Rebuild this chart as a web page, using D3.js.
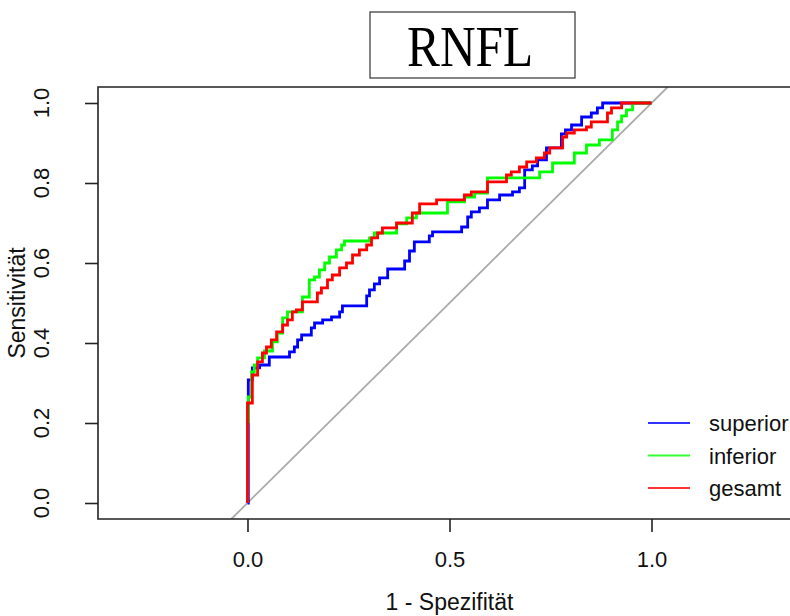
<!DOCTYPE html>
<html>
<head>
<meta charset="utf-8">
<script src="https://cdn.jsdelivr.net/npm/d3@7"></script>
<style>
	body { margin: 0; background: #fff; }
	svg { display: block; font-family: "Liberation Sans", Arial, Helvetica, sans-serif; }
</style>
</head>
<body>
<svg width="790" height="616"></svg>
<script>
const w = 790;
const h = 616;

const title = "RNFL";
const x_label = "1 - Spezifität";
const y_label = "Sensitivität";
const x_ticks = [0, 0.5, 1];
const y_ticks = [0, 0.2, 0.4, 0.6, 0.8, 1];
const series_names = ["superior", "inferior", "gesamt"];
const series_colors = ["#0000ff", "#00ff00", "#ff0000"];

// [1 - specificity, sensitivity], step corners
const superior = [
	[0, 0], [0.002, 0.308], [0.012, 0.338], [0.030, 0.345], [0.054, 0.365], [0.104, 0.378],
	[0.116, 0.39], [0.124, 0.408], [0.134, 0.42], [0.158, 0.438], [0.166, 0.45], [0.186, 0.458],
	[0.208, 0.465], [0.228, 0.478], [0.235, 0.493], [0.295, 0.518], [0.302, 0.533], [0.314, 0.548],
	[0.327, 0.563], [0.347, 0.585], [0.389, 0.605], [0.401, 0.63], [0.413, 0.653], [0.450, 0.668],
	[0.458, 0.678], [0.530, 0.69], [0.545, 0.715], [0.554, 0.728], [0.574, 0.738], [0.594, 0.758],
	[0.624, 0.77], [0.656, 0.778], [0.673, 0.788], [0.686, 0.833], [0.705, 0.843], [0.718, 0.858],
	[0.740, 0.888], [0.777, 0.923], [0.787, 0.933], [0.802, 0.945], [0.827, 0.965], [0.851, 0.975],
	[0.866, 0.988], [0.879, 1.0], [1.0, 1.0]
];
const inferior = [
	[0, 0], [0, 0.203], [0.002, 0.265], [0.010, 0.328], [0.017, 0.345], [0.025, 0.363],
	[0.042, 0.38], [0.062, 0.403], [0.074, 0.425], [0.087, 0.463], [0.099, 0.478], [0.136, 0.515],
	[0.153, 0.558], [0.166, 0.565], [0.178, 0.583], [0.191, 0.60], [0.203, 0.615], [0.220, 0.633],
	[0.233, 0.645], [0.240, 0.655], [0.302, 0.663], [0.314, 0.675], [0.369, 0.698], [0.394, 0.713],
	[0.418, 0.725], [0.495, 0.753], [0.537, 0.765], [0.562, 0.775], [0.594, 0.813], [0.723, 0.828],
	[0.755, 0.85], [0.809, 0.875], [0.839, 0.895], [0.871, 0.908], [0.903, 0.933], [0.916, 0.953],
	[0.926, 0.968], [0.938, 0.983], [0.953, 1.0], [1.0, 1.0]
];
const gesamt = [
	[0, 0], [0, 0.25], [0.012, 0.32], [0.025, 0.353], [0.037, 0.375], [0.047, 0.39],
	[0.059, 0.408], [0.072, 0.428], [0.087, 0.445], [0.099, 0.458], [0.111, 0.478], [0.121, 0.483],
	[0.136, 0.503], [0.173, 0.525], [0.183, 0.538], [0.198, 0.558], [0.210, 0.57], [0.228, 0.588],
	[0.245, 0.60], [0.260, 0.62], [0.277, 0.633], [0.295, 0.645], [0.307, 0.663], [0.322, 0.675],
	[0.334, 0.688], [0.369, 0.70], [0.408, 0.725], [0.426, 0.748], [0.468, 0.758], [0.537, 0.77],
	[0.554, 0.778], [0.594, 0.803], [0.641, 0.82], [0.653, 0.828], [0.673, 0.84], [0.691, 0.853],
	[0.715, 0.863], [0.735, 0.875], [0.748, 0.888], [0.780, 0.915], [0.790, 0.925], [0.809, 0.933],
	[0.839, 0.94], [0.851, 0.953], [0.891, 0.975], [0.901, 0.988], [0.926, 1.0], [1.0, 1.0]
];
const curves = [superior, inferior, gesamt];

// plot region (R style, box cut off at the right edge)
const plot_left = 98;
const plot_right = 801;
const plot_top = 87;
const plot_bottom = 519;
const tick_len = 13;

const svg = d3.select("svg");

const x_scale = d3.scaleLinear()
	.domain([-0.37, 1.37])
	.range([plot_left, plot_right]);

const y_scale = d3.scaleLinear()
	.domain([-0.04, 1.04])
	.range([plot_bottom, plot_top]);

svg.append("clipPath")
	.attr("id", "plot_clip")
	.append("rect")
	.attr("x", plot_left)
	.attr("y", plot_top)
	.attr("width", plot_right - plot_left)
	.attr("height", plot_bottom - plot_top);

const plot_area = svg.append("g").attr("clip-path", "url(#plot_clip)");

// chance diagonal
plot_area.append("line")
	.attr("x1", x_scale(-0.04))
	.attr("y1", y_scale(-0.04))
	.attr("x2", x_scale(1.04))
	.attr("y2", y_scale(1.04))
	.attr("stroke", "#ababab")
	.attr("stroke-width", 1.8);

const line = d3.line()
	.x((d) => x_scale(d[0]))
	.y((d) => y_scale(d[1]))
	.curve(d3.curveStepAfter);

curves.forEach((element, i) => {
	plot_area.append("path")
		.datum(element)
		.attr("d", line)
		.attr("fill", "none")
		.attr("stroke", series_colors[i])
		.attr("stroke-width", 2.8)
		.attr("stroke-linejoin", "miter");
});

// box: left, top, bottom
svg.append("path")
	.attr("d", "M" + plot_right + "," + plot_top + "H" + plot_left + "V" + plot_bottom + "H" + plot_right)
	.attr("fill", "none")
	.attr("stroke", "#222")
	.attr("stroke-width", 1.6);

const x_axis = d3.axisBottom(x_scale)
	.tickValues(x_ticks)
	.tickSize(tick_len)
	.tickPadding(19)
	.tickFormat(d3.format(".1f"));

const x_axis_g = svg.append("g")
	.attr("transform", "translate(0," + plot_bottom + ")")
	.call(x_axis);
x_axis_g.select(".domain").remove();
x_axis_g.selectAll("line").attr("stroke", "#222").attr("stroke-width", 1.6);
x_axis_g.selectAll("text")
	.style("font-size", "22px")
	.style("font-family", "Liberation Sans, Arial, sans-serif")
	.attr("fill", "#111");

const y_axis = d3.axisLeft(y_scale)
	.tickValues(y_ticks)
	.tickSize(tick_len)
	.tickFormat("");

const y_axis_g = svg.append("g")
	.attr("transform", "translate(" + plot_left + ",0)")
	.call(y_axis);
y_axis_g.select(".domain").remove();
y_axis_g.selectAll("line").attr("stroke", "#222").attr("stroke-width", 1.6);

// rotated y tick labels
y_ticks.forEach((element) => {
	svg.append("text")
		.attr("transform", "translate(49," + y_scale(element) + ") rotate(-90)")
		.attr("text-anchor", "middle")
		.style("font-size", "22px")
		.attr("fill", "#111")
		.text(d3.format(".1f")(element));
});

svg.append("text")
	.attr("x", x_scale(0.5))
	.attr("y", 610)
	.attr("text-anchor", "middle")
	.style("font-size", "23px")
	.attr("fill", "#111")
	.text(x_label);

svg.append("text")
	.attr("transform", "translate(25," + y_scale(0.5) + ") rotate(-90)")
	.attr("text-anchor", "middle")
	.style("font-size", "23px")
	.attr("fill", "#111")
	.text(y_label);

// title in a box
svg.append("rect")
	.attr("x", 370)
	.attr("y", 12)
	.attr("width", 205)
	.attr("height", 66)
	.attr("fill", "none")
	.attr("stroke", "#333")
	.attr("stroke-width", 1.2);

svg.append("text")
	.attr("x", 470)
	.attr("y", 66)
	.attr("text-anchor", "middle")
	.style("font-family", "'Liberation Serif', 'Times New Roman', serif")
	.style("font-size", "57px")
	.attr("textLength", 126)
	.attr("lengthAdjust", "spacingAndGlyphs")
	.attr("fill", "#000")
	.text(title);

// legend
const legend = svg.append("g");
series_names.forEach((element, i) => {
	const ly = 423 + i * 32.5;
	legend.append("line")
		.attr("x1", 648)
		.attr("x2", 690)
		.attr("y1", ly)
		.attr("y2", ly)
		.attr("stroke", series_colors[i])
		.attr("stroke-opacity", 0.8)
		.attr("stroke-width", 1.8);
	legend.append("text")
		.attr("x", 709)
		.attr("y", ly + 8)
		.style("font-size", "22px")
		.attr("fill", "#111")
		.text(element);
});
</script>
</body>
</html>
